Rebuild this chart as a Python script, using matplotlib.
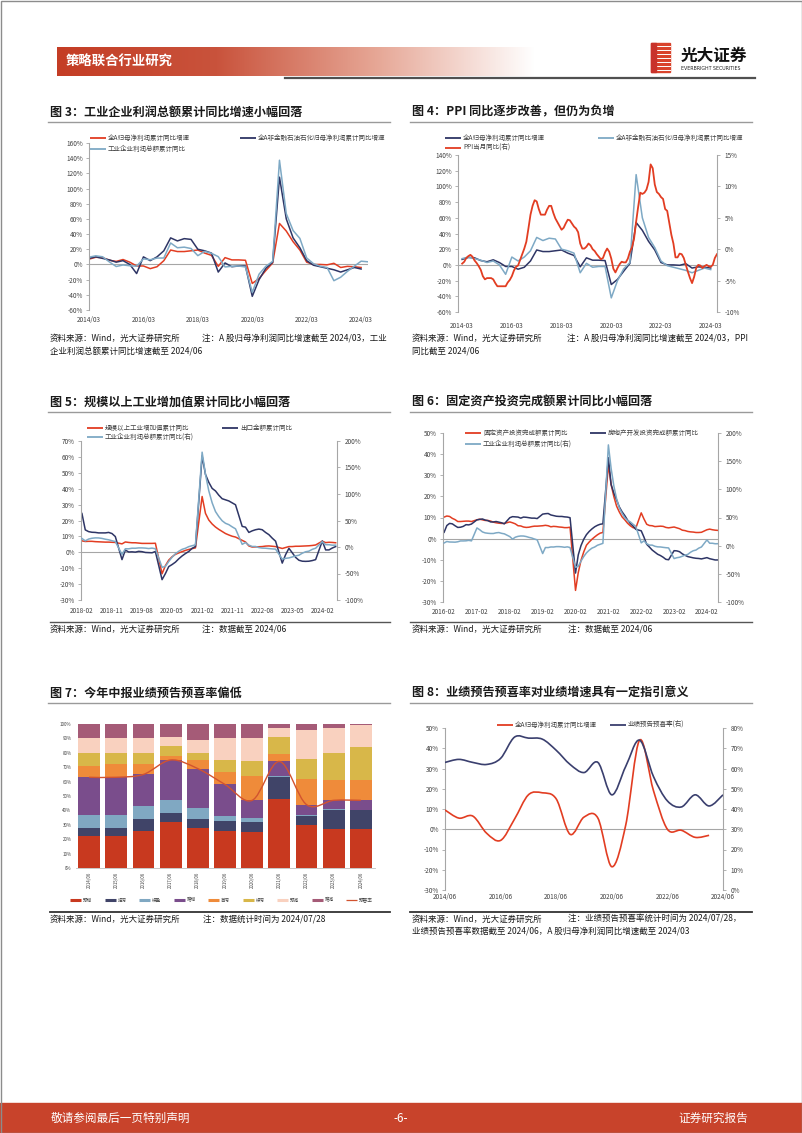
import numpy as np
import matplotlib
matplotlib.use('Agg')
import matplotlib.pyplot as plt
from matplotlib.path import Path
from matplotlib.patches import PathPatch, Rectangle
from matplotlib.colors import LinearSegmentedColormap

plt.rcParams['font.family'] = ['Noto Sans CJK SC', 'DejaVu Sans']
plt.rcParams['axes.unicode_minus'] = False

W, H = 802, 1133

# ---------------- data ----------------
# 全A归母 / 全A非金融石油石化 归母净利润累计同比, 季度 2014Q1-2024Q1
ashare_q = [7, 9.5, 9, 5.5,
            4, 6.5, 3, -2,
            -2, -5.5, -3, 5,
            19, 17, 17, 18,
            19, 15, 12, -2.5,
            9, 6, 6, 5.5,
            -25, -18.5, -8, 2,
            54, 44, 30, 19,
            3, 0, 0, -0.5,
            1.5, -4, -2.5, -3,
            -4]
nonfin_q = [8, 10, 8, 6,
            3, 5, 0, -12,
            10, 5, 10, 18,
            35, 31, 34, 33,
            20, 18, 15, -10,
            2, -3, -2, -2,
            -42, -20, -5, 3,
            115, 60, 35, 22,
            5, -1, -3, -5,
            -7, -10, -7, -4,
            -6]

# 工业企业利润总额累计同比, 月度 2014-03 至 2024-06 (无1月)
ind_profit = [9.6, 9.6, 9.8, 11.4, 11.6, 10.0, 10.1, 6.7, 5.3, 3.3,
              -4.2, -2.7, -1.3, -0.8, -0.7, -1.0, -1.9, -1.7, -2.0, -1.9, -2.3,
              4.8, 7.4, 6.5, 6.4, 6.2, 6.9, 8.4, 8.4, 8.6, 9.4, 8.5,
              31.5, 28.3, 24.4, 22.7, 22.0, 21.6, 21.6, 22.8, 23.3, 21.9, 21.0,
              16.1, 11.6, 15.0, 16.5, 17.2, 17.1, 16.2, 14.7, 13.6, 11.8, 10.3,
              -14.0, -3.3, -3.4, -2.3, -2.4, -1.7, -1.7, -2.1, -2.9, -2.1, -3.3,
              -38.3, -36.7, -27.4, -19.3, -12.8, -8.1, -4.4, -2.4, 0.7, 2.4, 4.1,
              178.9, 137.3, 106.0, 83.4, 66.9, 57.3, 49.5, 44.7, 42.2, 38.0, 34.3,
              5.0, 8.5, 3.5, 1.0, 1.0, -1.1, -2.1, -2.3, -3.0, -3.6, -4.0,
              -22.9, -21.4, -20.6, -18.8, -16.8, -15.5, -11.7, -9.0, -7.8, -4.4, -2.3,
              10.2, 4.3, 4.3, 3.4, 3.5]

# PPI当月同比, 2014-03 至 2024-06
ppi = [-2.3, -2.0, -1.4, -1.1, -0.9, -1.2, -1.8, -2.2, -2.7, -3.3,
       -4.3, -4.8, -4.6, -4.6, -4.6, -4.8, -5.4, -5.9, -5.9, -5.9, -5.9, -5.9,
       -5.3, -4.9, -4.3, -3.4, -2.8, -2.6, -1.7, -0.8, 0.1, 1.2, 3.3, 5.5,
       6.9, 7.8, 7.6, 6.4, 5.5, 5.5, 5.5, 6.3, 6.9, 6.9, 5.8, 4.9,
       4.3, 3.7, 3.1, 3.4, 4.1, 4.7, 4.6, 4.1, 3.6, 3.3, 2.7, 0.9,
       0.1, 0.1, 0.4, 0.9, 0.6, 0.0, -0.3, -0.8, -1.2, -1.6, -1.4, -0.5,
       0.1, -0.4, -1.5, -3.1, -3.7, -3.0, -2.4, -2.0, -2.1, -2.1, -1.5, -0.4,
       0.3, 1.7, 4.4, 6.8, 9.0, 8.8, 9.0, 9.5, 10.7, 13.5, 12.9, 10.3,
       9.1, 8.8, 8.3, 8.0, 6.4, 6.1, 4.2, 2.3, 0.9, -1.3, -1.3, -0.7,
       -0.8, -1.4, -2.5, -3.6, -4.6, -5.4, -4.4, -3.0, -2.5, -2.6, -3.0, -2.7,
       -2.5, -2.7, -2.8, -2.5, -1.4, -0.8]

# 规模以上工业增加值 / 出口金额 累计同比, 2018-02 至 2024-06 (无1月)
ind_va = [7.2, 6.8, 6.9, 6.9, 6.7, 6.6, 6.5, 6.4, 6.4, 6.3, 6.2,
          5.3, 6.5, 6.2, 6.0, 6.0, 5.8, 5.6, 5.6, 5.6, 5.6, 5.7,
          -13.5, -8.4, -4.9, -2.8, -1.3, -0.4, 0.4, 1.2, 1.8, 2.3, 2.8,
          35.1, 24.5, 20.3, 17.8, 15.9, 14.4, 13.1, 11.8, 10.9, 10.1, 9.6,
          7.5, 6.5, 4.0, 3.3, 3.4, 3.5, 3.6, 3.9, 4.0, 3.8, 3.6,
          2.4, 3.0, 3.6, 3.6, 3.8, 3.8, 3.9, 4.0, 4.1, 4.3, 4.6,
          7.0, 6.1, 6.3, 6.2, 6.0]
exports = [24.4, 14.1, 13.0, 12.6, 12.5, 12.2, 12.2, 12.2, 12.5, 11.8, 9.9,
           -4.6, 1.4, 0.2, 0.3, 0.1, 0.6, 0.4, -0.1, -0.2, -0.3, 0.5,
           -17.2, -13.4, -9.0, -7.7, -6.2, -4.1, -2.3, -0.8, 0.5, 2.5, 3.6,
           60.6, 49.0, 44.0, 40.2, 38.6, 35.9, 33.7, 33.0, 32.3, 31.1, 29.9,
           16.3, 15.8, 12.5, 13.5, 14.2, 14.6, 14.2, 12.5, 11.1, 8.9, 7.0,
           -6.8, -1.5, 2.5, -0.3, -3.2, -5.0, -5.6, -5.7, -5.6, -5.2, -4.6,
           7.1, 1.5, 1.5, 2.7, 3.6]

# 固定资产投资 / 房地产开发投资 完成额累计同比, 2016-02 至 2024-06 (无1月)
fai = [10.2, 10.7, 10.5, 9.6, 9.0, 8.1, 8.1, 8.2, 8.3, 8.3, 8.1,
       8.9, 9.2, 8.9, 8.6, 8.6, 8.3, 7.8, 7.5, 7.3, 7.2, 7.2,
       7.9, 7.5, 7.0, 6.1, 6.0, 5.5, 5.3, 5.4, 5.7, 5.9, 5.9,
       6.1, 6.3, 6.1, 5.6, 5.8, 5.7, 5.5, 5.4, 5.2, 5.2, 5.4,
       -24.5, -16.1, -10.3, -6.3, -3.1, -1.6, -0.3, 0.8, 1.8, 2.6, 2.9,
       35.0, 25.6, 19.9, 15.4, 12.6, 10.3, 8.9, 7.3, 6.1, 5.2, 4.9,
       12.2, 9.3, 6.8, 6.2, 6.1, 5.7, 5.8, 5.9, 5.8, 5.3, 5.1,
       5.5, 5.1, 4.7, 4.0, 3.8, 3.4, 3.2, 3.1, 2.9, 2.9, 3.0,
       4.2, 4.5, 4.2, 4.0, 3.9]
realestate = [3.0, 6.2, 7.2, 7.0, 6.1, 5.3, 5.4, 5.8, 6.6, 6.5, 6.9,
              8.9, 9.1, 9.3, 8.8, 8.5, 7.9, 7.9, 8.1, 7.8, 7.5, 7.0,
              9.9, 10.4, 10.3, 10.2, 9.7, 10.2, 10.1, 9.9, 9.7, 9.7, 9.5,
              11.6, 11.8, 11.9, 11.2, 10.9, 10.6, 10.5, 10.5, 10.3, 10.2, 9.9,
              -16.3, -7.7, -3.3, -0.3, 1.9, 3.4, 4.6, 5.6, 6.3, 6.8, 7.0,
              38.3, 25.6, 21.6, 18.3, 15.0, 12.7, 10.9, 8.8, 7.2, 6.0, 4.4,
              3.7, 0.7, -2.7, -4.0, -5.4, -6.4, -7.4, -8.0, -8.8, -9.8, -10.0,
              -5.7, -5.8, -6.2, -7.2, -7.9, -8.5, -8.8, -9.1, -9.3, -9.4, -9.6,
              -9.0, -9.5, -9.8, -10.1, -10.1]

# 中报业绩预告类型占比 (%)
fc_years = ['2014/06', '2015/06', '2016/06', '2017/06', '2018/06', '2019/06',
            '2020/06', '2021/06', '2022/06', '2023/06', '2024/06']
fc_types = ['预增', '扭亏', '续盈', '略增', '首亏', '续亏', '预减', '略减']
fc_share = [
    [22, 22.5, 25.5, 32, 28, 26, 25, 48, 30, 27, 27],
    [6, 5.5, 8.5, 6, 6, 6.5, 7, 15, 6, 13, 13],
    [9, 9, 9, 9, 8, 3.5, 3, 1, 1, 1, 0.5],
    [26, 26, 22, 28, 27, 22, 12, 10, 7, 6, 6.5],
    [8, 9, 7, 3, 6, 9, 17, 5, 18, 14, 14],
    [9, 8, 8, 7, 5, 8, 10, 12, 14, 19, 23],
    [10, 10, 10, 6, 9, 15, 16, 6, 20, 17, 15],
    [10, 10, 10, 9, 11, 10, 10, 3, 4, 3, 1],
]
fc_colors = ['#C8391F', '#404468', '#80A8C2', '#7A4D8C',
             '#EF8B3A', '#D8B749', '#F9D1BF', '#A55B77']

# 业绩预告预喜率, 半年度 2014/06 至 2024/06
happy_rate = [63, 64.5, 63, 62, 65, 75.5, 75, 74.5, 69, 62, 58,
              63, 47, 61, 74, 56, 44, 41, 47, 41.5, 47]

RED = '#E23D22'
NAVY = '#2E3565'
LBLUE = '#7EA9C5'
AXC = '#A6A6A6'
TXT = '#404040'


def month_axis(y0, m0, y1, m1, skip_jan):
    out = []
    y, m = y0, m0
    while (y, m) <= (y1, m1):
        if not (skip_jan and m == 1):
            out.append((y, m))
        m += 1
        if m > 12:
            y, m = y + 1, 1
    return out


def dec(ym):
    return [y + (m - 1) / 12 for y, m in ym]


prof_ym = month_axis(2014, 3, 2024, 6, True)
prof_x = dec(prof_ym)
q_ym = [(y, m) for y, m in month_axis(2014, 3, 2024, 3, False) if m % 3 == 0]
q_x = dec(q_ym)
prof_q = [v for (y, m), v in zip(prof_ym, ind_profit) if m % 3 == 0]
prof_q_x = [x for (y, m), x in zip(prof_ym, prof_x) if m % 3 == 0]
ppi_x = dec(month_axis(2014, 3, 2024, 6, False))
va_x = dec(month_axis(2018, 2, 2024, 6, True))
fai_x = dec(month_axis(2016, 2, 2024, 6, True))
prof_5 = [(x, v) for x, v in zip(prof_x, ind_profit) if x >= 2018.08]
prof_6 = [(x, v) for x, v in zip(prof_x, ind_profit) if x >= 2016.08]
half_x = [2014 + 5 / 12 + 0.5 * i for i in range(len(happy_rate))]
ashare_half = ashare_q[1::2]

fig = plt.figure(figsize=(W / 100, H / 100), dpi=100)
fig.patch.set_facecolor('white')

bg = fig.add_axes([0, 0, 1, 1])
bg.set_xlim(0, W)
bg.set_ylim(H, 0)
bg.axis('off')


def px_axes(x0, y0, x1, y1):
    ax = fig.add_axes([x0 / W, 1 - y1 / H, (x1 - x0) / W, (y1 - y0) / H])
    ax.patch.set_alpha(0)
    return ax


def pct(v):
    return '%d%%' % v


def style(ax, ax2=None, fs=4.6, xpad=5):
    for s in ['top', 'bottom', 'right']:
        ax.spines[s].set_visible(False)
    ax.spines['left'].set_color(AXC)
    ax.spines['left'].set_linewidth(0.8)
    ax.tick_params(axis='y', length=2, width=0.6, color=AXC, labelsize=fs,
                   labelcolor=TXT, pad=2.5)
    ax.tick_params(axis='x', length=0, labelsize=fs, labelcolor=TXT, pad=xpad)
    ax.set_yticklabels([pct(v) for v in ax.get_yticks()])
    ax.axhline(0, color=AXC, lw=0.8, zorder=1)
    if ax2 is not None:
        for s in ['top', 'bottom', 'left']:
            ax2.spines[s].set_visible(False)
        ax2.spines['right'].set_color(AXC)
        ax2.spines['right'].set_linewidth(0.8)
        ax2.tick_params(axis='y', length=2, width=0.6, color=AXC,
                        labelsize=fs, labelcolor=TXT, pad=3.5)
        ax2.set_yticklabels([pct(v) for v in ax2.get_yticks()])


def legend_item(x, y, color, label, lw=1.3, length=16, fs=4.7):
    bg.plot([x, x + length], [y, y], color=color, lw=lw, solid_capstyle='butt')
    bg.text(x + length + 2, y, label, fontsize=fs, va='center', ha='left',
            color=TXT)


def title(x, y, s, x1):
    bg.text(x, y, s, fontsize=8.7, fontweight='bold', va='center', ha='left',
            color='#1a1a1a')
    bg.plot([x - 2, x1], [y + 10, y + 10], color='#9a9a9a', lw=1.0)


def note(x, y, s):
    bg.text(x, y, s, fontsize=6.1, va='center', ha='left', color='#1a1a1a')


def smooth(ax, x, y, **kw):
    x = np.asarray(x, float)
    y = np.asarray(y, float)
    verts = [(x[0], y[0])]
    codes = [Path.MOVETO]
    n = len(x)
    for i in range(n - 1):
        i0 = max(i - 1, 0)
        i3 = min(i + 2, n - 1)
        c1 = (x[i] + (x[i + 1] - x[i0]) / 6, y[i] + (y[i + 1] - y[i0]) / 6)
        c2 = (x[i + 1] - (x[i3] - x[i]) / 6, y[i + 1] - (y[i3] - y[i]) / 6)
        verts += [c1, c2, (x[i + 1], y[i + 1])]
        codes += [Path.CURVE4] * 3
    ax.add_patch(PathPatch(Path(verts, codes), fill=False, **kw))


# ---------------- header / footer ----------------
cmap = LinearSegmentedColormap.from_list('hd', ['#C43D25', '#C9533C', '#E6A695', '#FFFFFF'])
bg.imshow(np.linspace(0, 1, 256)[None, :], extent=[57, 535, 76, 47],
          cmap=cmap, aspect='auto', zorder=1)
bg.text(66, 61.5, '策略联合行业研究', fontsize=9.6, fontweight='bold',
        color='white', va='center', ha='left', zorder=2)
bg.plot([285, 755], [77.5, 77.5], color='#505050', lw=1.6)
bg.add_patch(Rectangle((651, 43), 19, 29, color='#D9432B', zorder=2))
for i, yy in enumerate(range(46, 72, 4)):
    bg.plot([657, 670], [yy, yy], color='white', lw=0.7, zorder=3)
bg.add_patch(Rectangle((651, 43), 5, 29, color='#C8322A', zorder=3))
bg.text(681, 55.5, '光大证券', fontsize=12, fontweight='bold', color='#111111',
        va='center', ha='left')
bg.text(681, 68.5, 'EVERBRIGHT SECURITIES', fontsize=3.4, color='#222222',
        va='center', ha='left', family=['DejaVu Sans'])

bg.add_patch(Rectangle((0, 1103), W, 30, color='#C8432B'))
bg.text(51, 1118, '敬请参阅最后一页特别声明', fontsize=8.4, color='white',
        va='center', ha='left')
bg.text(401, 1118, '-6-', fontsize=8.4, color='white', va='center', ha='center')
bg.text(748, 1118, '证券研究报告', fontsize=8.4, color='white', va='center',
        ha='right')
bg.add_patch(Rectangle((0.5, 0.5), W - 1, H - 1, fill=False, ec='#8c8c8c', lw=1))

# ---------------- 图3 ----------------
title(50, 112, '图 3：工业企业利润总额累计同比增速小幅回落', 390)
ax = px_axes(89, 143, 368, 310)
ax.plot(q_x, ashare_q, color=RED, lw=1.1)
ax.plot(q_x, nonfin_q, color=NAVY, lw=1.1)
ax.plot(prof_q_x, prof_q, color=LBLUE, lw=1.1)
ax.set_xlim(2014.17, 2024.42)
ax.set_ylim(-60, 160)
ax.set_yticks(range(-60, 161, 20))
ax.set_xticks([y + 2 / 12 for y in range(2014, 2025, 2)])
ax.set_xticklabels(['%d/03' % y for y in range(2014, 2025, 2)])
style(ax, xpad=4.5)
legend_item(90, 138, RED, '全A归母净利润累计同比增速')
legend_item(240, 138, NAVY, '全A非金融石油石化归母净利润累计同比增速')
legend_item(90, 149, LBLUE, '工业企业利润总额累计同比')
note(50, 338, '资料来源：Wind，光大证券研究所')
note(202, 338, '注：A 股归母净利润同比增速截至 2024/03，工业')
note(50, 351, '企业利润总额累计同比增速截至 2024/06')

# ---------------- 图4 ----------------
title(412, 112, '图 4：PPI 同比逐步改善，但仍为负增', 752)
ax = px_axes(458, 155, 717, 312)
ax.plot(q_x, ashare_q, color=NAVY, lw=1.1)
ax.plot(q_x, nonfin_q, color=LBLUE, lw=1.1)
ax.set_xlim(2014.0, 2024.42)
ax.set_ylim(-60, 140)
ax.set_yticks(range(-60, 141, 20))
ax.set_xticks([y + 2 / 12 for y in range(2014, 2025, 2)])
ax.set_xticklabels(['%d-03' % y for y in range(2014, 2025, 2)])
ax2 = ax.twinx()
ax2.plot(ppi_x, ppi, color=RED, lw=1.3)
ax2.set_ylim(-10, 15)
ax2.set_yticks(range(-10, 16, 5))
ax2.set_xlim(2014.0, 2024.42)
style(ax, ax2, xpad=7)
legend_item(445, 138, NAVY, '全A归母净利润累计同比增速')
legend_item(598, 138, LBLUE, '全A非金融石油石化归母净利润累计同比增速')
legend_item(445, 148, RED, 'PPI当月同比(右)')
note(412, 338, '资料来源：Wind，光大证券研究所')
note(567, 338, '注：A 股归母净利润同比增速截至 2024/03，PPI')
note(412, 351, '同比截至 2024/06')

# ---------------- 图5 ----------------
title(50, 402, '图 5：规模以上工业增加值累计同比小幅回落', 390)
ax = px_axes(81, 441, 337, 600)
ax.plot(va_x, ind_va, color=RED, lw=1.1)
ax.plot(va_x, exports, color=NAVY, lw=1.1)
ax.set_xlim(2018.06, 2024.45)
ax.set_ylim(-30, 70)
ax.set_yticks(range(-30, 71, 10))
t5 = month_axis(2018, 2, 2024, 2, False)[::9]
ax.set_xticks(dec(t5))
ax.set_xticklabels(['%d-%02d' % (y, m) for y, m in t5])
ax2 = ax.twinx()
ax2.plot([p[0] for p in prof_5], [p[1] for p in prof_5], color=LBLUE, lw=1.1)
ax2.set_ylim(-100, 200)
ax2.set_yticks(range(-100, 201, 50))
ax2.set_xlim(2018.06, 2024.45)
style(ax, ax2, xpad=5)
legend_item(87, 428, RED, '规模以上工业增加值累计同比')
legend_item(222, 428, NAVY, '出口金额累计同比')
legend_item(87, 437, LBLUE, '工业企业利润总额累计同比(右)')
bg.plot([50, 390], [622, 622], color='#555555', lw=1.0)
note(50, 629, '资料来源：Wind，光大证券研究所')
note(202, 629, '注：数据截至 2024/06')

# ---------------- 图6 ----------------
title(412, 402, '图 6：固定资产投资完成额累计同比小幅回落', 752)
ax = px_axes(443, 433, 718, 602)
ax.plot(fai_x, fai, color=RED, lw=1.1)
ax.plot(fai_x, realestate, color=NAVY, lw=1.1)
ax.set_xlim(2016.05, 2024.42)
ax.set_ylim(-30, 50)
ax.set_yticks(range(-30, 51, 10))
ax.set_xticks([y + 1 / 12 for y in range(2016, 2025)])
ax.set_xticklabels(['%d-02' % y for y in range(2016, 2025)])
ax2 = ax.twinx()
ax2.plot([p[0] for p in prof_6], [p[1] for p in prof_6], color=LBLUE, lw=1.1)
ax2.set_ylim(-100, 200)
ax2.set_yticks(range(-100, 201, 50))
ax2.set_xlim(2016.05, 2024.42)
style(ax, ax2, xpad=4.5)
legend_item(465, 433, RED, '固定资产投资完成额累计同比')
legend_item(590, 433, NAVY, '房地产开发投资完成额累计同比')
legend_item(465, 444, LBLUE, '工业企业利润总额累计同比(右)')
bg.plot([410, 752], [622, 622], color='#555555', lw=1.0)
note(412, 629, '资料来源：Wind，光大证券研究所')
note(568, 629, '注：数据截至 2024/06')

# ---------------- 图7 ----------------
title(50, 693, '图 7：今年中报业绩预告预喜率偏低', 390)
ax = px_axes(75.5, 724, 374.5, 868)
idx = np.arange(len(fc_years))
bottom = np.zeros(len(fc_years))
for name, vals, col in zip(fc_types, fc_share, fc_colors):
    ax.bar(idx, vals, bottom=bottom, width=0.8, color=col, lw=0)
    bottom += np.array(vals)
rate_line = np.sum(np.array(fc_share[:4]), axis=0)
smooth(ax, idx, rate_line, ec='#D2532F', lw=1.0, zorder=5)
ax.set_xlim(-0.5, 10.5)
ax.set_ylim(0, 100)
ax.set_yticks(range(0, 101, 10))
ax.set_yticklabels([pct(v) for v in range(0, 101, 10)])
ax.set_xticks(idx)
ax.set_xticklabels(fc_years, rotation=90, va='top', ha='center')
for s in ['top', 'right', 'left']:
    ax.spines[s].set_visible(False)
ax.spines['bottom'].set_color('#BFBFBF')
ax.spines['bottom'].set_linewidth(0.6)
ax.tick_params(axis='y', length=0, labelsize=3.2, labelcolor=TXT, pad=3)
ax.tick_params(axis='x', length=0, labelsize=3.1, labelcolor=TXT, pad=3)
for i, (name, col) in enumerate(zip(fc_types + ['预喜率'], fc_colors + ['#D2532F'])):
    lw = 2.2 if i < 8 else 0.9
    legend_item(70 + 34.5 * i, 900, col, name, lw=lw, length=11, fs=3.3)
bg.plot([50, 390], [912, 912], color='#333333', lw=1.3)
note(50, 919, '资料来源：Wind，光大证券研究所')
note(203, 919, '注：数据统计时间为 2024/07/28')

# ---------------- 图8 ----------------
title(412, 693, '图 8：业绩预告预喜率对业绩增速具有一定指引意义', 752)
ax = px_axes(445, 728, 723, 890)
smooth(ax, half_x[:len(ashare_half)], ashare_half, ec=RED, lw=1.2, zorder=3)
ax.set_xlim(half_x[0], half_x[-1])
ax.set_ylim(-30, 50)
ax.set_yticks(range(-30, 51, 10))
ax.set_xticks(half_x[::4])
ax.set_xticklabels(['%d/06' % y for y in range(2014, 2025, 2)])
ax2 = ax.twinx()
smooth(ax2, half_x, happy_rate, ec='#3A3F6E', lw=1.2, zorder=3)
ax2.set_ylim(0, 80)
ax2.set_yticks(range(0, 81, 10))
ax2.set_xlim(half_x[0], half_x[-1])
style(ax, ax2, xpad=2.5)
legend_item(497, 725, RED, '全A归母净利润累计同比增速')
legend_item(610, 725, '#3A3F6E', '业绩预告预喜率(右)')
bg.plot([410, 752], [912, 912], color='#333333', lw=1.3)
note(412, 919, '资料来源：Wind，光大证券研究所')
note(568, 919, '注：业绩预告预喜率统计时间为 2024/07/28，')
note(412, 932, '业绩预告预喜率数据截至 2024/06，A 股归母净利润同比增速截至 2024/03')

fig.savefig('out.png', dpi=100, facecolor='white')
